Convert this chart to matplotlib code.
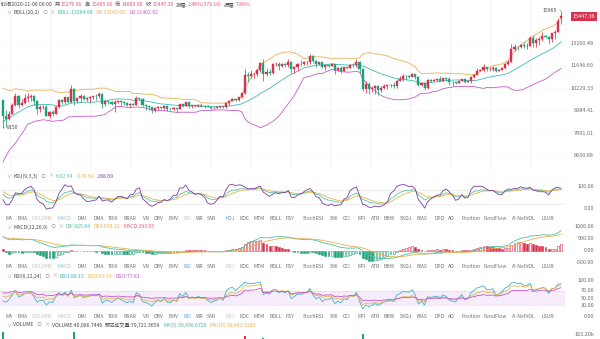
import numpy as np
import pandas as pd
import matplotlib
matplotlib.use("Agg")
import matplotlib.pyplot as plt
from matplotlib.transforms import blended_transform_factory
from matplotlib.ticker import NullLocator

plt.rcParams['font.family'] = ['Noto Sans CJK SC', 'DejaVu Sans']

# ---------------------------------------------------------------------------
# BTC daily candles 2020-04-01 .. 2020-11-06.
# The first 39 days (Apr 1 - May 9) only feed the indicators; May 10 onward is drawn.
# ---------------------------------------------------------------------------
first_shown = 39

opens = [
    6420, 6640, 6810, 6740, 6870, 6780, 7330, 7200, 7370, 7300, 6870, 6890, 6920, 6850, 6860,
    6640, 7120, 7100, 7260, 7130, 6850, 6860, 7140, 7500, 7540, 7560, 7700, 7790, 7760, 8790,
    8620, 8830, 8970, 8900, 8880, 9030, 9150, 9990, 9810,
    # May 10 - 31
    9550, 8730, 8570, 8820, 9300, 9790, 9310, 9380, 9670, 9730, 9780, 9510, 9060, 9170, 9180,
    8720, 8900, 8840, 9200, 9580, 9430, 9700,
    # June
    9460, 10200, 9520, 9660, 9790, 9620, 9670, 9750, 9790, 9770, 9880, 9320, 9480, 9470, 9340,
    9430, 9520, 9460, 9390, 9310, 9360, 9290, 9680, 9620, 9290, 9250, 9160, 9010, 9120, 9190,
    # July
    9140, 9230, 9090, 9060, 9130, 9080, 9340, 9250, 9430, 9230, 9280, 9230, 9300, 9240, 9250,
    9190, 9130, 9150, 9170, 9210, 9160, 9390, 9530, 9600, 9540, 9700, 9930, 11030, 10940, 11100, 11110,
    # August
    11350, 11800, 11070, 11240, 11190, 11750, 11770, 11600, 11760, 11680, 11880, 11400, 11580, 11780, 11770,
    11860, 11910, 12280, 11970, 11730, 11860, 11520, 11680, 11650, 11750, 11330, 11460, 11320, 11530, 11480, 11710,
    # September
    11660, 11920, 11400, 10170, 10470, 10160, 10250, 10370, 10120, 10220, 10340, 10390, 10440, 10330, 10680,
    10790, 10950, 10940, 10930, 11090, 10920, 10420, 10530, 10240, 10740, 10690, 10730, 10770, 10690, 10840,
    # October
    10780, 10620, 10570, 10550, 10670, 10790, 10600, 10670, 10920, 11060, 11300, 11380, 11540, 11430, 11430,
    11500, 11320, 11370, 11510, 11750, 11920, 12820, 12970, 12930, 13120, 13030, 13070, 13650, 13280, 13460, 13560,
    # November 1 - 6
    13800, 13760, 13550, 14030, 14150, 15276.96,
]

highs = [
    6700, 7150, 7000, 6980, 6900, 7360, 7460, 7420, 7380, 7320, 6950, 7180, 6920, 6990, 6940,
    7200, 7150, 7300, 7260, 7220, 6940, 7160, 7570, 7620, 7660, 7720, 7790, 7800, 8950, 9460,
    9060, 9010, 9190, 8960, 9100, 9390, 9990, 10070, 9910,
    9580, 9050, 8950, 9390, 9930, 9840, 9590, 9880, 9950, 9890, 9830, 9560, 9270, 9310, 9300,
    8980, 9020, 9230, 9620, 9610, 9740, 9700,
    10430, 10230, 9690, 9880, 9850, 9730, 9800, 9800, 9880, 9990, 9940, 9550, 9490, 9480, 9540,
    9580, 9560, 9480, 9440, 9400, 9420, 9780, 9690, 9660, 9320, 9280, 9190, 9200, 9230, 9200,
    9310, 9270, 9130, 9180, 9140, 9360, 9360, 9460, 9440, 9310, 9290, 9340, 9340, 9280, 9270,
    9200, 9180, 9190, 9240, 9220, 9420, 9540, 9650, 9640, 9730, 10000, 11400, 11250, 11340, 11170, 11450,
    11860, 12120, 11480, 11420, 11790, 11910, 11920, 11800, 11810, 12080, 11940, 11630, 11800, 12000, 11970,
    11930, 12470, 12400, 12030, 11880, 11880, 11690, 11710, 11820, 11770, 11540, 11590, 11550, 11580, 11720, 11790,
    12090, 11950, 11460, 10630, 10570, 10350, 10400, 10420, 10350, 10480, 10400, 10480, 10580, 10800, 10940,
    11100, 11040, 11050, 11180, 11090, 10990, 10580, 10540, 10780, 10760, 10800, 10800, 10950, 10860, 10850,
    10930, 10660, 10600, 10700, 10800, 10800, 10690, 10940, 11100, 11490, 11430, 11730, 11560, 11550, 11630,
    11540, 11400, 11520, 11820, 12030, 13220, 13190, 13030, 13160, 13340, 13240, 13790, 13860, 13640, 13690, 14100,
    13900, 13820, 14070, 14250, 15280, 15965.00,
]

lows = [
    6200, 6570, 6660, 6700, 6680, 6780, 7120, 7150, 7150, 6750, 6780, 6830, 6600, 6780, 6620,
    6470, 6990, 7050, 7050, 6800, 6790, 6840, 7030, 7480, 7460, 7510, 7660, 7680, 7730, 8440,
    8620, 8770, 8720, 8560, 8780, 8940, 9050, 9710, 9520,
    8150, 8200, 8540, 8800, 9260, 9140, 9220, 9330, 9460, 9480, 9300, 8820, 8940, 9080, 8700,
    8630, 8700, 8810, 9110, 9330, 9350, 9400,
    9420, 9280, 9380, 9450, 9580, 9530, 9380, 9640, 9570, 9690, 9110, 9240, 9330, 9280, 8920,
    9370, 9250, 9280, 9210, 9200, 9280, 9280, 9560, 9220, 9000, 9020, 8850, 8940, 9010, 9080,
    9100, 8950, 9040, 9050, 8940, 9060, 9200, 9230, 9150, 9120, 9180, 9160, 9200, 9120, 9170,
    9000, 9080, 9120, 9110, 9140, 9150, 9280, 9500, 9480, 9530, 9650, 9920, 10600, 10850, 10850, 10970,
    11230, 10650, 10970, 11010, 11100, 11590, 11350, 11530, 11520, 11540, 11140, 11160, 11260, 11640, 11710,
    11690, 11770, 11830, 11560, 11680, 11500, 11380, 11520, 11600, 11120, 11260, 11130, 11290, 11440, 11460, 11570,
    11530, 11170, 10050, 9960, 9880, 10010, 9880, 9850, 10000, 10200, 10200, 10290, 10220, 10260, 10630,
    10670, 10750, 10820, 10900, 10800, 10360, 10350, 10140, 10200, 10580, 10640, 10630, 10640, 10640, 10680,
    10440, 10380, 10500, 10520, 10630, 10540, 10570, 10540, 10830, 11050, 11270, 11230, 11290, 11280, 11270,
    11220, 11310, 11350, 11420, 11690, 11900, 12690, 12720, 12880, 12910, 12780, 13060, 12940, 12990, 13120, 13440,
    13620, 13200, 13300, 13530, 14100, 14800.00,
]

closes = [
    6640, 6810, 6740, 6870, 6780, 7330, 7200, 7370, 7300, 6870, 6890, 6920, 6850, 6860, 6640,
    7120, 7100, 7260, 7130, 6850, 6860, 7140, 7500, 7540, 7560, 7700, 7790, 7760, 8790, 8620,
    8830, 8970, 8900, 8880, 9030, 9150, 9990, 9810, 9550,
    8730, 8570, 8820, 9300, 9790, 9310, 9380, 9670, 9730, 9780, 9510, 9060, 9170, 9180, 8720,
    8900, 8840, 9200, 9580, 9430, 9700, 9460,
    10200, 9520, 9660, 9790, 9620, 9670, 9750, 9790, 9770, 9880, 9320, 9480, 9470, 9340, 9430,
    9520, 9460, 9390, 9310, 9360, 9290, 9680, 9620, 9290, 9250, 9160, 9010, 9120, 9190, 9140,
    9230, 9090, 9060, 9130, 9080, 9340, 9250, 9430, 9230, 9280, 9230, 9300, 9240, 9250, 9190,
    9130, 9150, 9170, 9210, 9160, 9390, 9530, 9600, 9540, 9700, 9930, 11030, 10940, 11100, 11110, 11350,
    11800, 11070, 11240, 11190, 11750, 11770, 11600, 11760, 11680, 11880, 11400, 11580, 11780, 11770, 11860,
    11910, 12280, 11970, 11730, 11860, 11520, 11680, 11650, 11750, 11330, 11460, 11320, 11530, 11480, 11710, 11660,
    11920, 11400, 10170, 10470, 10160, 10250, 10370, 10120, 10220, 10340, 10390, 10440, 10330, 10680, 10790,
    10950, 10940, 10930, 11090, 10920, 10420, 10530, 10240, 10740, 10690, 10730, 10770, 10690, 10840, 10780,
    10620, 10570, 10550, 10670, 10790, 10600, 10670, 10920, 11060, 11300, 11380, 11540, 11430, 11430, 11500,
    11320, 11370, 11510, 11750, 11920, 12820, 12970, 12930, 13120, 13030, 13070, 13650, 13280, 13460, 13560, 13800,
    13760, 13550, 14030, 14150, 15069.18, 15447.36,
]

# traded volume (BTC) for the days that are drawn, May 10 .. Nov 6
volumes = [
    108000, 88000, 62000, 58000, 72000, 66000, 45000, 52000, 58000, 49000, 55000, 70000, 50000, 36000, 48000,
    52000, 46000, 50000, 56000, 42000, 40000, 41000,
    78000, 107000, 52000, 48000, 44000, 30000, 38000, 36000, 40000, 45000, 76000, 50000, 30000, 32000, 60000,
    48000, 44000, 38000, 40000, 28000, 26000, 46000, 42000, 50000, 48000, 44000, 40000, 28000, 34000, 36000,
    38000, 36000, 30000, 24000, 28000, 42000, 36000, 44000, 42000, 34000, 22000, 24000, 34000, 32000, 30000,
    36000, 28000, 20000, 22000, 30000, 46000, 48000, 44000, 40000, 36000, 58000, 99000, 82000, 60000, 52000, 56000,
    62000, 95000, 66000, 56000, 62000, 52000, 60000, 40000, 44000, 58000, 70000, 56000, 60000, 50000, 40000,
    36000, 66000, 60000, 62000, 40000, 52000, 38000, 30000, 34000, 58000, 48000, 56000, 44000, 30000, 32000, 42000,
    60000, 74000, 104000, 84000, 80000, 50000, 52000, 64000, 50000, 46000, 40000, 30000, 34000, 52000, 50000,
    54000, 46000, 40000, 34000, 36000, 62000, 44000, 52000, 56000, 42000, 28000, 26000, 44000, 40000, 38000,
    50000, 52000, 28000, 26000, 36000, 40000, 34000, 46000, 50000, 44000, 32000, 48000, 44000, 38000, 40000,
    44000, 22000, 24000, 44000, 48000, 84000, 70000, 52000, 40000, 42000, 50000, 66000, 72000, 60000, 52000, 46000,
    36000, 52000, 60000, 64000, 80000, 40086.7446,
]

main_ticks = [13260.48, 11646.69, 10229.33, 8984.41, 7891.01, 6930.68]
kdj_ticks = [100, 0]
macd_ticks = [1000, 500, 0, -500]
rsi_ticks = [100, 70, 50, 30, 0]
vol_ticks = [103200]

tab_names = ["MA", "EMA", "VOLUME", "MACD", "DMI", "DMA", "TRIX", "BRAR", "VR", "OBV", "EMV",
             "RSI", "WR", "SAR", "KDJ", "ROC", "MTM", "BOLL", "PSY", "StochRSI", "SMI", "CCI",
             "MFI", "ATR", "BBW", "SKDJ", "BIAS", "DPO", "AO", "Position", "FundFlow",
             "AI-NetVOL", "LSUR"]
tab_x = [5, 17, 32, 58, 78, 93, 108, 124, 143, 154, 168, 184, 196, 207, 226, 239, 254, 270,
         286, 303, 330, 343, 357, 371, 383, 400, 417, 434, 448, 461, 484, 512, 542]

# ---------------------------------------------------------------------------
# colours
RED = '#d8324e'
GREEN = '#20a179'
DARK = '#4a4a4a'
GRAY = '#9a9a9a'
LIGHT = '#c3c3c3'
BLUE = '#5b9fe0'
AXIS_C = '#6f6f6f'
VAL_RED = '#e05a74'
C_MID, C_UP, C_LO = '#3fbcaf', '#e9b152', '#c65dc9'
C_K, C_D, C_J = '#5cc6a6', '#e8b54c', '#7a3ca6'
C_DIF, C_DEA, C_MACD = '#4dbf9f', '#e8b04f', '#e0607e'
C_R1, C_R2, C_R3 = '#3fb3c8', '#e8b54c', '#c157c7'

# ---------------------------------------------------------------------------
df = pd.DataFrame({'o': opens, 'h': highs, 'l': lows, 'c': closes}, dtype=float)

# BOLL(20, 2)
mid = df.c.rolling(20).mean()
sd = df.c.rolling(20).std(ddof=0)
ub, lb = mid + 2 * sd, mid - 2 * sd

# KDJ(9, 3, 3)
llv = df.l.rolling(9, min_periods=1).min()
hhv = df.h.rolling(9, min_periods=1).max()
rsv = (df.c - llv) / (hhv - llv) * 100
kk = rsv.ewm(alpha=1 / 3, adjust=False).mean()
dd = kk.ewm(alpha=1 / 3, adjust=False).mean()
jj = 3 * kk - 2 * dd

# MACD(12, 26, 9)
dif = df.c.ewm(span=12, adjust=False).mean() - df.c.ewm(span=26, adjust=False).mean()
dea = dif.ewm(span=9, adjust=False).mean()
hist = 2 * (dif - dea)

# RSI(6, 12, 24)
chg = df.c.diff()


def rsi(n):
    up = chg.clip(lower=0).ewm(alpha=1 / n, adjust=False).mean()
    tot = chg.abs().ewm(alpha=1 / n, adjust=False).mean()
    return up / tot * 100


rsi1, rsi2, rsi3 = rsi(6), rsi(12), rsi(24)

shown = df.iloc[first_shown:].reset_index(drop=True)
xi = np.arange(len(shown))


def vis(s):
    return np.asarray(s.iloc[first_shown:], dtype=float)


# ---------------------------------------------------------------------------
W, H = 600, 339
fig = plt.figure(figsize=(W / 100, H / 100), dpi=100)
fig.patch.set_facecolor('white')
renderer = fig.canvas.get_renderer()

PX0, PX1 = 0, 565           # plotting area, pixels
STEP, OFF = 3.1, 3.0        # candle pitch and first-candle offset, pixels


def panel(y0, y1):
    ax = fig.add_axes([PX0 / W, 1 - y1 / H, (PX1 - PX0) / W, (y1 - y0) / H])
    ax.set_xlim((PX0 - OFF) / STEP, (PX1 - OFF) / STEP)
    for s in ax.spines.values():
        s.set_visible(False)
    ax.patch.set_alpha(0)
    return ax


def bare(ax):
    ax.xaxis.set_major_locator(NullLocator())
    ax.xaxis.set_minor_locator(NullLocator())
    ax.yaxis.set_major_locator(NullLocator())
    ax.yaxis.set_minor_locator(NullLocator())


def lin_limits(va, ya, vb, yb, y0, y1):
    s = (yb - ya) / (va - vb)
    return vb - (y1 - yb) / s, va + (ya - y0) / s


def right_labels(ax, vals, texts, size=4.0):
    tr = blended_transform_factory(fig.transFigure, ax.transData)
    for v, t in zip(vals, texts):
        ax.text(594 / W, v, t, transform=tr, ha='right', va='center', fontsize=size,
                color=AXIS_C, clip_on=False)


def chain(x, y, parts, size=3.7):
    for s, color, gap in parts:
        t = fig.text(x / W, 1 - y / H, s, color=color, fontsize=size, va='center', ha='left')
        x += t.get_window_extent(renderer).width + gap


def tab_row(y, colors):
    for name, x in zip(tab_names, tab_x):
        fig.text(x / W, 1 - y / H, name, color=colors.get(name, '#707070'), fontsize=3.6,
                 va='center', ha='left')


# ---------------------------- main price panel -----------------------------
ax = panel(0, 170)
ax.set_yscale('log')
ref_p, ref_y, px_per_ln = 13260.48, 43, 174.1
ax.set_ylim(ref_p * np.exp(-(170 - ref_y) / px_per_ln), ref_p * np.exp(ref_y / px_per_ln))
bare(ax)
for gx in range(10, 565, 40):
    ax.axvline((gx - OFF) / STEP, color='#f1f1f1', lw=0.5, zorder=0)
for v in main_ticks:
    ax.axhline(v, color='#f5f5f5', lw=0.5, zorder=0)

o, h, l, c = (np.asarray(shown[k]) for k in 'ohlc')
up = c >= o
ccol = np.where(up, RED, GREEN)
ax.vlines(xi, l, h, colors=ccol, lw=0.55, zorder=3)
ax.bar(xi, np.abs(c - o), bottom=np.minimum(o, c), width=0.66, color=ccol,
       edgecolor=ccol, linewidth=0.3, zorder=4)

ax.plot(xi, vis(ub), color=C_UP, lw=0.6, zorder=2)
ax.plot(xi, vis(mid), color=C_MID, lw=0.6, zorder=2)
ax.plot(xi, vis(lb), color=C_LO, lw=0.6, zorder=2)

right_labels(ax, main_ticks, [f"{v:.2f}" for v in main_ticks])

# highest / lowest markers and last price tag
ih = int(np.argmax(h))
il = int(np.argmin(l))
ax.annotate(f"{h[ih]:.0f}", xy=(ih, h[ih]), xytext=(-4, 0), textcoords='offset pixels',
            ha='right', va='center', fontsize=3.7, color=DARK,
            arrowprops=dict(arrowstyle='-', lw=0.4, color='#555555', shrinkA=0, shrinkB=0))
ax.annotate(f"{l[il]:.0f}", xy=(il, l[il]), xytext=(4, 0), textcoords='offset pixels',
            ha='left', va='center', fontsize=3.7, color=DARK,
            arrowprops=dict(arrowstyle='-', lw=0.4, color='#555555', shrinkA=0, shrinkB=0))
tr_main = blended_transform_factory(fig.transFigure, ax.transData)
ax.text(584 / W, c[-1], f"{c[-1]:.2f}", transform=tr_main, ha='center', va='center',
        fontsize=3.9, color='white', clip_on=False,
        bbox=dict(boxstyle='square,pad=0.35', fc=RED, ec='none'))

chain(1, 4.5, [("时间2020-11-06 00:00", DARK, 2.5),
               ("开:", DARK, 0), ("15276.96", VAL_RED, 2.5),
               ("高:", DARK, 0), ("15965.00", VAL_RED, 2.5),
               ("低:", DARK, 0), ("14800.00", VAL_RED, 2.5),
               ("收:", DARK, 0), ("15447.36", VAL_RED, 2.5),
               ("涨幅:", DARK, 0), ("2.46%(378.18)", VAL_RED, 2.5),
               ("振幅:", DARK, 0), ("7.86%", VAL_RED, 0)])
chain(6, 12.5, [("∨", GRAY, 2), ("BOLL(20,2)", DARK, 3), ("⊙", GRAY, 2), ("×", GRAY, 3),
                ("BOLL:13284.99", C_MID, 3), ("UB:15165.66", C_UP, 3), ("LB:11402.92", C_LO, 0)])

# ------------------------------- KDJ panel ---------------------------------
axk = panel(180, 214)
axk.set_ylim(*lin_limits(100, 186, 0, 208, 180, 214))
bare(axk)
for v in (80, 20):
    axk.axhline(v, color='#cfcfcf', lw=0.5, ls=(0, (2, 2)), zorder=0)
axk.plot(xi, vis(kk), color=C_K, lw=0.6)
axk.plot(xi, vis(dd), color=C_D, lw=0.6)
axk.plot(xi, vis(jj), color=C_J, lw=0.6)
right_labels(axk, kdj_ticks, [f"{v:.2f}" for v in kdj_ticks])
chain(6, 176, [("∨", GRAY, 2), ("KDJ(9,3,3)", DARK, 3), ("⊙", GRAY, 2), ("×", GRAY, 3),
               ("K:82.64", C_K, 3), ("D:79.62", C_D, 3), ("J:88.69", C_J, 0)])
tab_row(218, {"VOLUME": LIGHT, "MACD": '#9fbfdc', "RSI": LIGHT, "KDJ": BLUE})

# ------------------------------- MACD panel --------------------------------
axm = panel(229, 265)
axm.set_ylim(*lin_limits(1000, 227, 0, 251, 229, 265))
bare(axm)
hv = vis(hist)
prev = np.concatenate([[np.asarray(hist)[first_shown - 1]], hv[:-1]])
rising = hv >= prev
pos = hv >= 0
edge = np.where(pos, RED, GREEN)
face = np.where(pos & ~rising, RED, np.where(~pos & ~rising, GREEN, 'white'))
axm.bar(xi, hv, width=0.6, color=face, edgecolor=edge, linewidth=0.4, zorder=2)
axm.plot(xi, vis(dif), color=C_DIF, lw=0.6, zorder=3)
axm.plot(xi, vis(dea), color=C_DEA, lw=0.6, zorder=3)
right_labels(axm, macd_ticks, [f"{v:.2f}" for v in macd_ticks])
chain(6, 227, [("∨", GRAY, 2), ("MACD(12,26,9)", DARK, 3), ("⊙", GRAY, 2), ("×", GRAY, 3),
               ("DIF:825.84", C_DIF, 3), ("DEA:679.32", C_DEA, 3), ("MACD:293.05", C_MACD, 0)])
tab_row(267, {"VOLUME": LIGHT, "MACD": '#9fbfdc', "RSI": BLUE, "KDJ": LIGHT})

# ------------------------------- RSI panel ---------------------------------
axr = panel(279, 316)
axr.set_ylim(*lin_limits(100, 280, 0, 316, 279, 316))
bare(axr)
axr.axhspan(30, 70, color='#f6ecfc', lw=0, zorder=0)
for v in (70, 30):
    axr.axhline(v, color='#dcc3ea', lw=0.5, ls=(0, (2, 2)), zorder=1)
axr.plot(xi, vis(rsi1), color=C_R1, lw=0.6, zorder=3)
axr.plot(xi, vis(rsi2), color=C_R2, lw=0.6, zorder=3)
axr.plot(xi, vis(rsi3), color=C_R3, lw=0.6, zorder=3)
right_labels(axr, rsi_ticks, [f"{v:.2f}" for v in rsi_ticks])
chain(6, 276, [("∨", GRAY, 2), ("RSI(6,12,24)", DARK, 3), ("⊙", GRAY, 2), ("×", GRAY, 3),
               ("RSI1:88.15", C_R1, 3), ("RSI2:83.74", C_R2, 3), ("RSI3:77.81", C_R3, 0)])
tab_row(317, {"VOLUME": LIGHT, "MACD": LIGHT, "RSI": BLUE, "KDJ": LIGHT})

# ------------------------------ volume panel -------------------------------
axv = panel(330, 380)
axv.set_ylim(0, 112200)
bare(axv)
axv.bar(xi, volumes, width=0.62, color=ccol, linewidth=0)
right_labels(axv, vol_ticks, ["103.20k"])
chain(6, 325, [("∨", GRAY, 2), ("VOLUME", DARK, 3), ("⊙", GRAY, 2), ("×", GRAY, 3),
               ("VOLUME:40,086.7446", DARK, 3), ("预估成交量:79,721.3659", DARK, 3),
               ("MA(5):39,438.6720", C_MID, 3), ("MA(10):38,843.9203", C_UP, 0)])

fig.savefig('out.png', dpi=100)
